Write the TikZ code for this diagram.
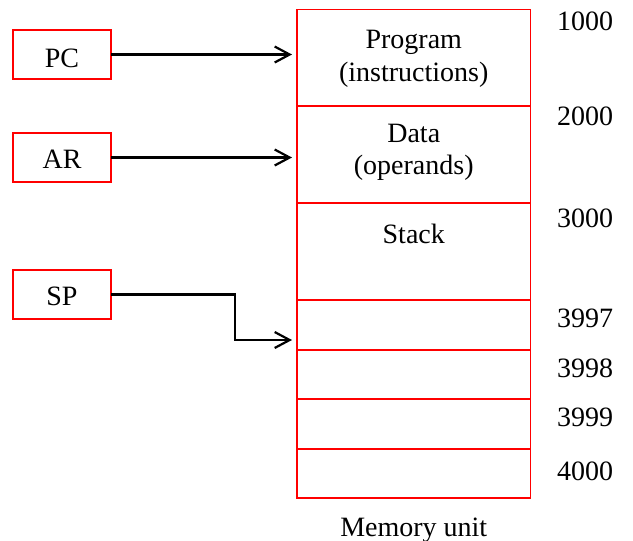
\documentclass[tikz,border=0pt]{standalone}
\usepackage{fontspec}
\setmainfont{Liberation Serif}
\usetikzlibrary{arrows.meta}
\begin{document}
\begin{tikzpicture}[x=1pt,y=-1pt,
  every node/.style={font=\fontsize{28}{33}\selectfont},
  cell/.style={draw=red, line width=1.6pt, rectangle, inner sep=0pt, outer sep=0pt,
    minimum width=233.5pt},
  reg/.style={draw=red, line width=1.6pt, rectangle, inner sep=0pt, outer sep=0pt,
    minimum width=98pt, minimum height=49pt},
  lbl/.style={anchor=base, inner sep=0pt},
  addr/.style={anchor=base west, inner sep=0pt},
  arr/.style={line width=2.2pt, -{Straight Barb[length=15pt,width=16pt,line width=2.2pt]},
    shorten >=5pt}]
\useasboundingbox (0,0) rectangle (633,541);

% memory cells
\node[cell, minimum height=96.5pt] (prog)  at (413.75,57.75) {};
\node[cell, minimum height=97pt]   (data)  at (413.75,154.5) {};
\node[cell, minimum height=97pt]   (stack) at (413.75,251.5) {};
\node[cell, minimum height=50pt]   (m1)    at (413.75,325)   {};
\node[cell, minimum height=49pt]   (m2)    at (413.75,374.5) {};
\node[cell, minimum height=50pt]   (m3)    at (413.75,424)   {};
\node[cell, minimum height=49pt]   (m4)    at (413.75,473.5) {};

% cell contents
\node[lbl] (tprog)  at (413.75,48)  {Program};
\node[lbl] (tinstr) at (413.75,81)  {(instructions)};
\node[lbl] (tdata)  at (413.75,142) {Data};
\node[lbl] (toper)  at (413.75,174) {(operands)};
\node[lbl] (tstack) at (413.75,243) {Stack};
\node[lbl] (tmem)   at (413.75,536) {Memory unit};

% addresses
\node[addr] (a1000) at (557,30)  {1000};
\node[addr] (a2000) at (557,125) {2000};
\node[addr] (a3000) at (557,227) {3000};
\node[addr] (a3997) at (557,327) {3997};
\node[addr] (a3998) at (557,377) {3998};
\node[addr] (a3999) at (557,426) {3999};
\node[addr] (a4000) at (557,480) {4000};

% registers
\node[reg] (pc) at (62,54.5)  {};
\node[reg] (ar) at (62,157.5) {};
\node[reg] (sp) at (62,294.5) {};
\node[lbl] (tpc) at (62,67)  {PC};
\node[lbl] (tar) at (62,168) {AR};
\node[lbl] (tsp) at (62,305) {SP};

% pointers into memory
\coordinate (spbend) at (235,340);
\draw[arr] (pc.east) -- (pc.east -| prog.west);
\draw[arr] (ar.east) -- (ar.east -| data.west);
\draw[arr] (sp.east) -| (spbend) -- (spbend -| m1.west);
\end{tikzpicture}
\end{document}
